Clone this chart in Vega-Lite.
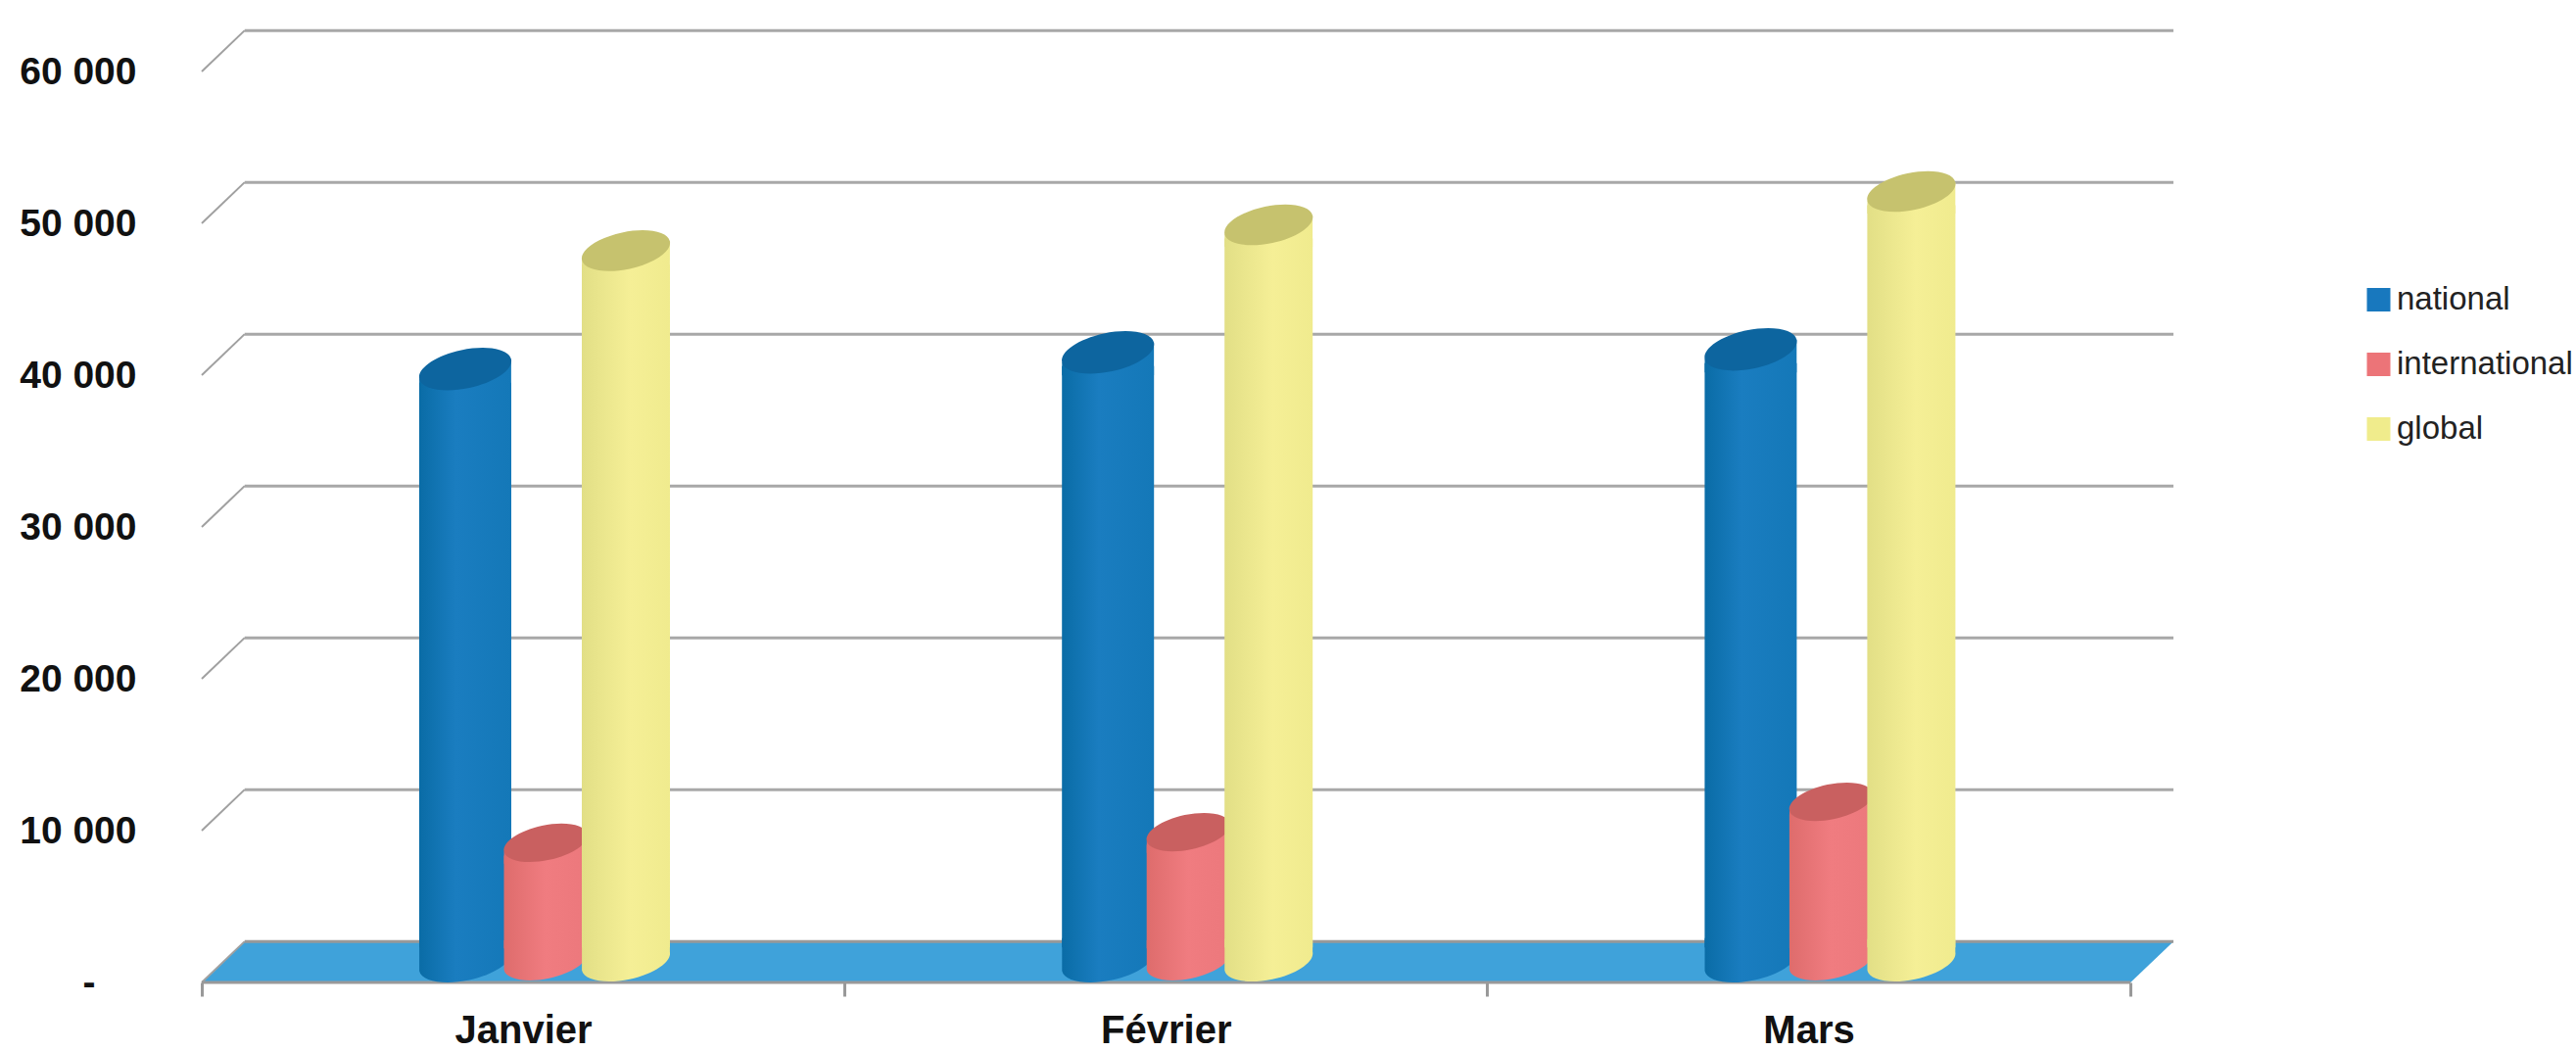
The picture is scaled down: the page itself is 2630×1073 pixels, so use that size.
{
"$schema":"https://vega.github.io/schema/vega-lite/v6.json",
"width":2013,"height":976.5,
"autosize":"none",
"padding":{"left":206,"top":26.5,"right":411,"bottom":70},
"background":"white",
"config":{"view":{"stroke":null},"font":"Liberation Sans"},
"datasets":{
"cyl":[
{"mois":"Janvier","serie":"national","valeur":39000},
{"mois":"Janvier","serie":"international","valeur":7800},
{"mois":"Janvier","serie":"global","valeur":46800},
{"mois":"Février","serie":"national","valeur":40100},
{"mois":"Février","serie":"international","valeur":8500},
{"mois":"Février","serie":"global","valeur":48500},
{"mois":"Mars","serie":"national","valeur":40300},
{"mois":"Mars","serie":"international","valeur":10500},
{"mois":"Mars","serie":"global","valeur":50700}
],
"levels":[{"level":0},{"level":10000},{"level":20000},{"level":30000},{"level":40000},{"level":50000},{"level":60000}],
"floor":[{"h":0,"from":0,"to":3},{"h":2700,"from":0.0667,"to":3.0667}],
"oblique":[
{"level":10000,"d":0,"h":10000},{"level":10000,"d":0.0667,"h":12700},
{"level":20000,"d":0,"h":20000},{"level":20000,"d":0.0667,"h":22700},
{"level":30000,"d":0,"h":30000},{"level":30000,"d":0.0667,"h":32700},
{"level":40000,"d":0,"h":40000},{"level":40000,"d":0.0667,"h":42700},
{"level":50000,"d":0,"h":50000},{"level":50000,"d":0.0667,"h":52700},
{"level":60000,"d":0,"h":60000},{"level":60000,"d":0.0667,"h":62700},
{"level":0,"d":0,"h":0},{"level":0,"d":0.0667,"h":2700}
]
},
"resolve":{"scale":{"x":"independent","y":"independent"},"axis":{"x":"independent","y":"independent"}},
"layer":[
{
"resolve":{"scale":{"x":"shared","y":"independent"},"axis":{"y":"independent"}},
"layer":[
{"data":{"name":"levels"},"mark":{"type":"rule","color":"#A8A8A8","strokeWidth":3},
"transform":[{"filter":"datum.level>0"}],
"encoding":{"x":{"datum":0.0667,"type":"quantitative","scale":{"domain":[0,3.0667]},"axis":null},"x2":{"datum":3.0667},
"y":{"field":"level","type":"quantitative","scale":{"domain":[-2700,60300]},"axis":null}}},
{"data":{"name":"floor"},"mark":{"type":"area","orient":"horizontal","color":"#3FA2DA"},
"encoding":{"x":{"field":"from","type":"quantitative","scale":{"domain":[0,3.0667]},"axis":null},"x2":{"field":"to"},
"y":{"field":"h","type":"quantitative","stack":null,"scale":{"domain":[0,63000]},
"axis":{"values":[0,10000,20000,30000,40000,50000,60000],"title":null,"domain":false,"ticks":false,"grid":false,
"labelFont":"Liberation Sans","labelFontWeight":"bold","labelFontSize":39,"labelColor":"#111",
"labelPadding":{"condition":{"test":"datum.value==0","value":109},"value":67},
"labelExpr":"datum.value==0?'-':replace(format(datum.value,','),',',' ')"}}}},
{"data":{"name":"oblique"},"mark":{"type":"line","color":"#A0A0A0","strokeWidth":2},
"encoding":{"x":{"field":"d","type":"quantitative","scale":{"domain":[0,3.0667]},"axis":null},
"y":{"field":"h","type":"quantitative","scale":{"domain":[0,63000]},"axis":null},"detail":{"field":"level"}}},
{"data":{"values":[{"level":0}]},"mark":{"type":"rule","color":"#999999","strokeWidth":3},
"encoding":{"x":{"datum":0,"type":"quantitative","scale":{"domain":[0,3.0667]},"axis":null},"x2":{"datum":3},
"y":{"field":"level","type":"quantitative","scale":{"domain":[0,63000]},"axis":null}}},
{"data":{"values":[{"level":0}]},"mark":{"type":"rule","color":"#999999","strokeWidth":3},
"encoding":{"x":{"datum":0.0667,"type":"quantitative","scale":{"domain":[0,3.0667]},"axis":null},"x2":{"datum":3.0667},
"y":{"field":"level","type":"quantitative","scale":{"domain":[-2700,60300]},"axis":null}}}
]
},
{
"data":{"name":"cyl"},
"encoding":{
"x":{"field":"mois","type":"nominal","sort":["Janvier","Février","Mars"],
"scale":{"paddingInner":0,"paddingOuter":0,"range":[0,1968.6]},
"axis":{"title":null,"tickBand":"extent","domain":false,"grid":false,"labelAngle":0,"tickColor":"#999999","tickWidth":3,"tickSize":14,
"labelFont":"Liberation Sans","labelFontWeight":"bold","labelFontSize":40,"labelColor":"#111","labelPadding":15}},
"xOffset":{"field":"serie","type":"nominal","sort":["national","international","global"],
"scale":{"domain":["national","international","global"],"paddingInner":0,"paddingOuter":0,"range":[228,474]}},
"y":{"field":"valeur","type":"quantitative","scale":{"domain":[-1400,61600]},"axis":null}
},
"layer":[
{"mark":{"type":"bar","width":80,"yOffset":14,"y2Offset":-14},
"encoding":{"y2":{"datum":0},
"color":{"field":"serie","type":"nominal","sort":["national","international","global"],
"scale":{"domain":["national","international","global"],"range":["#1878BE","#EC7478","#F0EC8C"]},
"legend":{"title":null,"orient":"none","legendX":2206,"legendY":263,"symbolType":"square","symbolSize":576,"symbolStrokeWidth":0,"labelLimit":400,
"labelFont":"Liberation Sans","labelFontSize":33,"labelColor":"#222","rowPadding":32,"labelOffset":2,"padding":0}}}},

{"transform":[{"filter":"datum.serie=='national'"}],"mark":{"type":"point","filled":true,"opacity":1,"size":8836,"color":{"gradient":"linear","x1":0,"y1":0,"x2":1,"y2":0,"stops":[{"offset":0,"color":"#0A6CA6"},{"offset":0.4,"color":"#1A7DC0"},{"offset":1,"color":"#1478B8"}]},"shape":"M-0.998,-0.5L0.998,-0.5L0.998,-0.212A1.02,0.42,-12,0,1,-0.998,0.212Z"},"encoding":{"y":{"datum":0}}},
{"transform":[{"filter":"datum.serie=='national'"}],"mark":{"type":"bar","width":94,"yOffset":14,"y2Offset":-14,"color":{"gradient":"linear","x1":0,"y1":0,"x2":1,"y2":0,"stops":[{"offset":0,"color":"#0A6CA6"},{"offset":0.4,"color":"#1A7DC0"},{"offset":1,"color":"#1478B8"}]}},"encoding":{"y2":{"datum":0}}},
{"transform":[{"filter":"datum.serie=='national'"}],"mark":{"type":"point","filled":true,"opacity":1,"size":8836,"color":{"gradient":"linear","x1":0,"y1":0,"x2":1,"y2":0,"stops":[{"offset":0,"color":"#0A6CA6"},{"offset":0.4,"color":"#1A7DC0"},{"offset":1,"color":"#1478B8"}]},"shape":"M-0.998,0.212L0.998,-0.212L0.998,0.5L-0.998,0.5Z"}},
{"transform":[{"filter":"datum.serie=='national'"}],"mark":{"type":"point","filled":true,"opacity":1,"size":8836,"color":"#0D659F","shape":"M-0.998,0.212A1.02,0.42,-12,1,1,0.998,-0.212A1.02,0.42,-12,1,1,-0.998,0.212Z"}},

{"transform":[{"filter":"datum.serie=='international'"}],"mark":{"type":"point","filled":true,"opacity":1,"size":7225,"color":{"gradient":"linear","x1":0,"y1":0,"x2":1,"y2":0,"stops":[{"offset":0,"color":"#DE6C6C"},{"offset":0.5,"color":"#F07C80"},{"offset":1,"color":"#EC787C"}]},"shape":"M-0.998,-0.5L0.998,-0.5L0.998,-0.212A1.02,0.42,-12,0,1,-0.998,0.212Z"},"encoding":{"y":{"datum":0}}},
{"transform":[{"filter":"datum.serie=='international'"}],"mark":{"type":"bar","width":85,"yOffset":13,"y2Offset":-13,"color":{"gradient":"linear","x1":0,"y1":0,"x2":1,"y2":0,"stops":[{"offset":0,"color":"#DE6C6C"},{"offset":0.5,"color":"#F07C80"},{"offset":1,"color":"#EC787C"}]}},"encoding":{"y2":{"datum":0}}},
{"transform":[{"filter":"datum.serie=='international'"}],"mark":{"type":"point","filled":true,"opacity":1,"size":7225,"color":{"gradient":"linear","x1":0,"y1":0,"x2":1,"y2":0,"stops":[{"offset":0,"color":"#DE6C6C"},{"offset":0.5,"color":"#F07C80"},{"offset":1,"color":"#EC787C"}]},"shape":"M-0.998,0.212L0.998,-0.212L0.998,0.5L-0.998,0.5Z"}},
{"transform":[{"filter":"datum.serie=='international'"}],"mark":{"type":"point","filled":true,"opacity":1,"size":7225,"color":"#C96060","shape":"M-0.998,0.212A1.02,0.42,-12,1,1,0.998,-0.212A1.02,0.42,-12,1,1,-0.998,0.212Z"}},

{"transform":[{"filter":"datum.serie=='global'"}],"mark":{"type":"point","filled":true,"opacity":1,"size":8100,"color":{"gradient":"linear","x1":0,"y1":0,"x2":1,"y2":0,"stops":[{"offset":0,"color":"#E2DF86"},{"offset":0.55,"color":"#F5EF96"},{"offset":1,"color":"#F0EB8E"}]},"shape":"M-0.998,-0.5L0.998,-0.5L0.998,-0.212A1.02,0.42,-12,0,1,-0.998,0.212Z"},"encoding":{"y":{"datum":0}}},
{"transform":[{"filter":"datum.serie=='global'"}],"mark":{"type":"bar","width":90,"yOffset":14,"y2Offset":-14,"color":{"gradient":"linear","x1":0,"y1":0,"x2":1,"y2":0,"stops":[{"offset":0,"color":"#E2DF86"},{"offset":0.55,"color":"#F5EF96"},{"offset":1,"color":"#F0EB8E"}]}},"encoding":{"y2":{"datum":0}}},
{"transform":[{"filter":"datum.serie=='global'"}],"mark":{"type":"point","filled":true,"opacity":1,"size":8100,"color":{"gradient":"linear","x1":0,"y1":0,"x2":1,"y2":0,"stops":[{"offset":0,"color":"#E2DF86"},{"offset":0.55,"color":"#F5EF96"},{"offset":1,"color":"#F0EB8E"}]},"shape":"M-0.998,0.212L0.998,-0.212L0.998,0.5L-0.998,0.5Z"}},
{"transform":[{"filter":"datum.serie=='global'"}],"mark":{"type":"point","filled":true,"opacity":1,"size":8100,"color":"#C6C26E","shape":"M-0.998,0.212A1.02,0.42,-12,1,1,0.998,-0.212A1.02,0.42,-12,1,1,-0.998,0.212Z"}}
]
}
]
}
